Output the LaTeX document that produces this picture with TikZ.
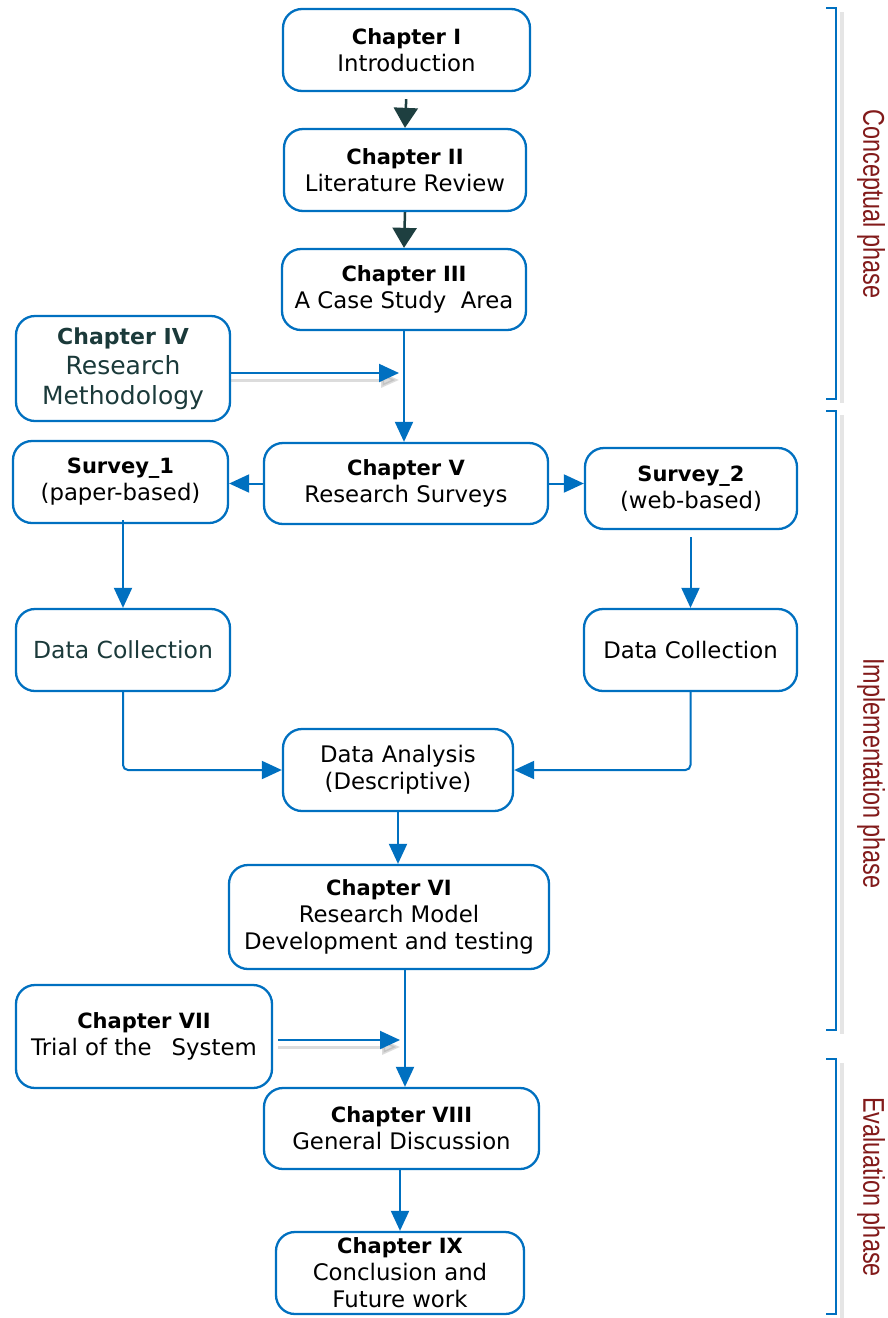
\documentclass[tikz,border=0pt]{standalone}
\usepackage{fontspec}
\setmainfont{DejaVu Sans}
\newfontfamily\phasefont{Liberation Sans}
\usetikzlibrary{arrows.meta}
\definecolor{cblue}{HTML}{0070C0}
\definecolor{cdark}{HTML}{1E3F40}
\definecolor{cteal}{HTML}{1B3A3A}
\definecolor{cred}{HTML}{821A1A}
\newcommand\hd[1]{{\bfseries\fontsize{21}{27}\selectfont #1}}
\tikzset{
  box/.style={draw=cblue, line width=2.3pt, rounded corners=19pt, align=center,
    inner sep=0pt, font=\fontsize{22.8}{27}\selectfont},
  arr/.style={draw=cblue, line width=2pt, -{Triangle[length=20pt,width=18pt]}},
  darr/.style={draw=cdark, line width=2.5pt, -{Triangle[length=20pt,width=24pt]}},
  shade/.style={draw=black!45, opacity=.3, line width=3pt, -{Triangle[length=18pt,width=15pt]}},
  brack/.style={draw=cblue, line width=2.8pt},
  brackshade/.style={draw=black!40, opacity=.25, line width=4pt},
  phase/.style={text=cred, font=\phasefont\fontsize{30}{30}\selectfont, rotate=-90, inner sep=0pt},
}
\begin{document}
\begin{tikzpicture}[x=1pt,y=-1pt]
\path[use as bounding box, fill=white] (0,0) rectangle (887,1318);

% chapter boxes
\node[box, minimum width=247pt, minimum height=82pt] (c1) at (406.5,50) {\hd{Chapter I}\\Introduction};
\node[box, minimum width=242pt, minimum height=82pt] (c2) at (405,170) {\hd{Chapter II}\\Literature Review};
\node[box, minimum width=244pt, minimum height=81pt] (c3) at (404,289.5) {\hd{Chapter III}\\A Case Study\ \ Area};
\node[box, minimum width=214pt, minimum height=105pt, text=cteal, font=\fontsize{25}{30}\selectfont] (c4) at (123,368.5)
  {{\bfseries\fontsize{22}{30}\selectfont Chapter IV}\\Research\\Methodology};
\node[box, minimum width=284pt, minimum height=81pt] (c5) at (406,483.5) {\hd{Chapter V}\\Research Surveys};
\node[box, minimum width=215pt, minimum height=82pt] (s1) at (120.5,482) {\hd{Survey\_1}\\(paper-based)};
\node[box, minimum width=212pt, minimum height=81pt] (s2) at (691,488.5) {\hd{Survey\_2}\\(web-based)};
\node[box, minimum width=214pt, minimum height=82pt, text=cteal, font=\fontsize{23.5}{28}\selectfont] (dl) at (123,650) {Data Collection};
\node[box, minimum width=213pt, minimum height=82pt] (dr) at (690.5,650) {Data Collection};
\node[box, minimum width=230pt, minimum height=82pt] (da) at (398,770) {Data Analysis\\(Descriptive)};
\node[box, minimum width=320pt, minimum height=104pt] (c6) at (389,917) {\hd{Chapter VI}\\Research Model\\Development and testing};
\node[box, minimum width=256pt, minimum height=103pt] (c7) at (144,1036.5) {\hd{Chapter VII}\\Trial of the\hspace{20pt}System};
\node[box, minimum width=275pt, minimum height=81pt] (c8) at (401.5,1128.5) {\hd{Chapter VIII}\\General Discussion};
\node[box, minimum width=248pt, minimum height=82pt] (c9) at (400,1273) {\hd{Chapter IX}\\Conclusion and\\Future work};

% junction points of the side inputs
\coordinate (j1) at (399,373);
\coordinate (j2) at (400,1040);
\coordinate (v6) at (405,0);

% connectors
\draw[darr, shorten <=7pt] (c1.south) -- (c2.north);
\draw[darr] (c2.south) -- (c3.north);
\draw[arr] (c3.south) -- (c3.south |- c5.north);
\draw[shade] ([yshift=-7pt]c4.east |- j1) -- ([yshift=-7pt]j1);
\draw[arr] (c4.east |- j1) -- (j1);
\draw[arr] (c5.west) -- (c5.west -| s1.east);
\draw[arr] (c5.east) -- (c5.east -| s2.west);
\draw[arr, shorten <=-4pt] (dl.north |- s1.south) -- (dl.north);
\draw[arr, shorten <=7pt] (dr.north |- s2.south) -- (dr.north);
\draw[arr, rounded corners=5pt] (dl.south) |- (da.west);
\draw[arr, rounded corners=5pt] (dr.south) |- (da.east);
\draw[arr] (da.south) -- (da.south |- c6.north);
\draw[arr] (c6.south -| v6) -- (c8.north -| v6);
\draw[shade, shorten <=5pt] ([yshift=-7pt]c7.east |- j2) -- ([yshift=-7pt]j2);
\draw[arr, shorten <=5pt] (c7.east |- j2) -- (j2);
\draw[arr] (c9.north |- c8.south) -- (c9.north);

% phase brackets
\draw[brackshade] (842,12) -- (842,403);
\draw[brackshade] (842,415) -- (842,1034);
\draw[brackshade] (842,1063) -- (842,1318);
\draw[brack] (826,8) -- (836,8) -- (836,399) -- (826,399);
\draw[brack] (826,411) -- (836,411) -- (836,1030) -- (826,1030);
\draw[brack] (826,1059) -- (836,1059) -- (836,1314) -- (826,1314);

\node[phase] (p1) at (871,204) {\scalebox{0.78}[1]{Conceptual phase}};
\node[phase] (p2) at (871,773.5) {\scalebox{0.78}[1]{Implementation phase}};
\node[phase] (p3) at (871,1187) {\scalebox{0.78}[1]{Evaluation phase}};
\end{tikzpicture}
\end{document}
